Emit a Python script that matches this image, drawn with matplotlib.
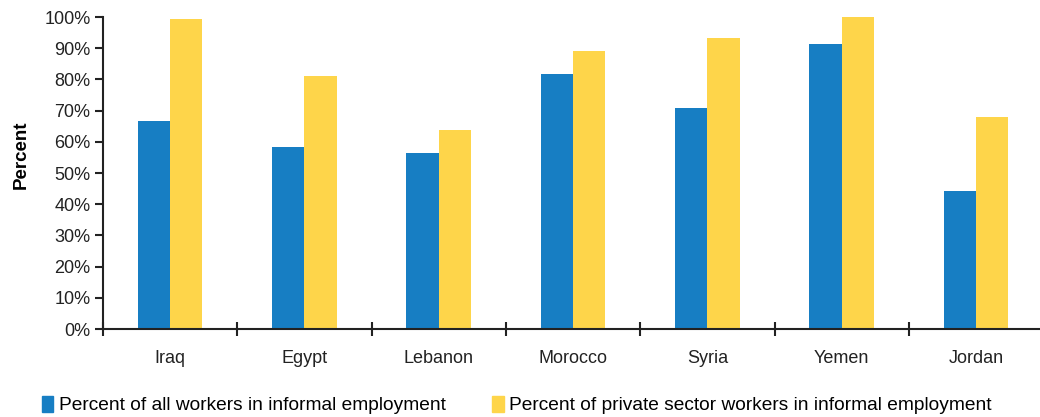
import matplotlib
matplotlib.use("Agg")
import matplotlib.pyplot as plt
import numpy as np
from matplotlib.ticker import PercentFormatter, FixedLocator
from matplotlib.patches import Patch

plt.rcParams['font.family'] = ['Liberation Sans Narrow', 'Liberation Sans', 'DejaVu Sans']

# informal employment shares by country (percent)
countries = ['Iraq', 'Egypt', 'Lebanon', 'Morocco', 'Syria', 'Yemen', 'Jordan']
all_workers = [66.6, 58.2, 56.4, 81.7, 70.8, 91.3, 44.3]
private_workers = [99.3, 81.1, 63.7, 89.0, 93.2, 99.9, 67.9]
series_names = ['Percent of all workers in informal employment',
                'Percent of private sector workers in informal employment']

blue = '#177ec3'
yellow = '#fed54a'

fig = plt.figure(figsize=(10.4, 4.17), dpi=100)
ax = fig.add_axes([0.099, 0.211, 0.904, 0.748])

x = np.arange(len(countries))
w = 0.24
ax.bar(x - w / 2, all_workers, w, color=blue)
ax.bar(x + w / 2, private_workers, w, color=yellow)

ax.set_xlim(-0.5, len(countries) - 0.5)
ax.set_ylim(0, 100)
ax.set_yticks(np.arange(0, 101, 10))
ax.yaxis.set_major_formatter(PercentFormatter(decimals=0))

# country names at centres, tick marks at the group boundaries
ax.set_xticks(x)
ax.set_xticklabels(countries)
ax.xaxis.set_minor_locator(FixedLocator(np.arange(-0.5, len(countries), 1.0)))
ax.tick_params(axis='x', which='major', length=0, pad=15, labelsize=13, colors='#222222')
ax.tick_params(axis='x', which='minor', direction='inout', length=10, width=1.5, color='#222222')
ax.tick_params(axis='y', direction='out', length=6, width=1.5, labelsize=13,
               colors='#222222', pad=3)

for s in ['top', 'right']:
    ax.spines[s].set_visible(False)
ax.spines['left'].set_linewidth(1.5)
ax.spines['bottom'].set_linewidth(1.5)
ax.spines['left'].set_color('#222222')
ax.spines['bottom'].set_color('#222222')

ax.set_ylabel('Percent', fontsize=13.5, fontweight='bold', labelpad=10)
ax.yaxis.set_label_coords(-0.078, 0.56)

handles = [Patch(color=blue), Patch(color=yellow)]
fig.legend(handles, series_names, loc='lower center', bbox_to_anchor=(0.497, -0.035),
           ncol=2, frameon=False, fontsize=13.8, handlelength=0.6, handleheight=0.9,
           handletextpad=0.3, columnspacing=2.4)

fig.savefig('out.png', dpi=100)
